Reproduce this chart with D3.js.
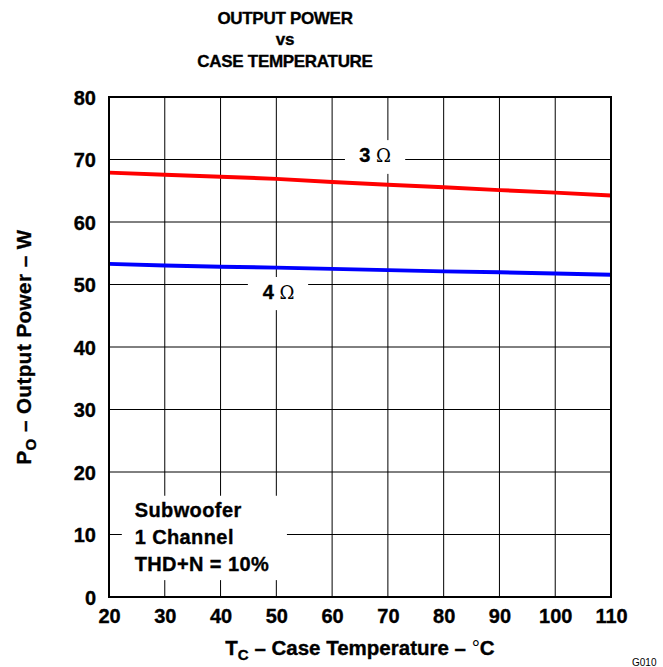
<!DOCTYPE html>
<html>
<head>
<meta charset="utf-8">
<script src="https://cdn.jsdelivr.net/npm/d3@7"></script>
<style>
  body { margin: 0; background: #fff; }
  svg { font-family: "Liberation Sans", Arial, sans-serif; }
  .tick text { font-size: 20px; font-weight: bold; fill: #000; font-family: "Liberation Sans", Arial, sans-serif; }
  .heavy { stroke: #000; stroke-width: 0.35px; }
</style>
</head>
<body>
<svg id="chart" width="663" height="667"></svg>
<script>
// data
const temps = [20, 30, 40, 50, 60, 70, 80, 90, 100, 110]
const ohm3 = [67.9, 67.55, 67.25, 66.9, 66.4, 65.95, 65.55, 65.1, 64.7, 64.25]
const ohm4 = [53.3, 53.05, 52.85, 52.7, 52.5, 52.3, 52.1, 51.95, 51.75, 51.55]
const xTicks = [20, 30, 40, 50, 60, 70, 80, 90, 100, 110]
const yTicks = [0, 10, 20, 30, 40, 50, 60, 70, 80]
const titleLines = ["OUTPUT POWER", "vs", "CASE TEMPERATURE"]
const noteLines = ["Subwoofer", "1 Channel", "THD+N = 10%"]

const margin = {top: 97, right: 52, bottom: 70, left: 109}
const width = 663 - margin.left - margin.right
const height = 667 - margin.top - margin.bottom

const svg = d3.select("#chart")

const x = d3.scaleLinear().domain([20, 110]).range([0, width])
const y = d3.scaleLinear().domain([0, 80]).range([height, 0])

const g = svg.append("g")
  .attr("transform", "translate(" + margin.left + "," + margin.top + ")")

// grid
g.append("g")
  .selectAll("line")
  .data(xTicks.slice(1, -1))
  .enter().append("line")
  .attr("x1", d => x(d)).attr("x2", d => x(d))
  .attr("y1", 0).attr("y2", height)
  .attr("stroke", "#000").attr("stroke-width", 1)

g.append("g")
  .selectAll("line")
  .data(yTicks.slice(1, -1))
  .enter().append("line")
  .attr("x1", 0).attr("x2", width)
  .attr("y1", d => y(d)).attr("y2", d => y(d))
  .attr("stroke", "#000").attr("stroke-width", 1)

// white boxes behind the labels cut the grid (in data units)
const boxes = [
  {x0: 62.3, x1: 73.1, y0: 73.1, y1: 67.7},   // 3 ohm
  {x0: 44.9, x1: 55.7, y0: 51.2, y1: 45.9},   // 4 ohm
  {x0: 22.3, x1: 51.9, y0: 16.2, y1: 2.7}     // note
]
g.selectAll("rect.box")
  .data(boxes)
  .enter().append("rect")
  .attr("class", "box")
  .attr("x", d => x(d.x0))
  .attr("width", d => x(d.x1) - x(d.x0))
  .attr("y", d => y(d.y0))
  .attr("height", d => y(d.y1) - y(d.y0))
  .attr("fill", "#fff")

const line = d3.line()
  .x((d, i) => x(temps[i]))
  .y(d => y(d))

g.append("path")
  .datum(ohm3)
  .attr("d", line)
  .attr("fill", "none")
  .attr("stroke", "#ff0000")
  .attr("stroke-width", 4)

g.append("path")
  .datum(ohm4)
  .attr("d", line)
  .attr("fill", "none")
  .attr("stroke", "#0000ff")
  .attr("stroke-width", 4)

// frame
g.append("rect")
  .attr("width", width).attr("height", height)
  .attr("fill", "none").attr("stroke", "#000").attr("stroke-width", 2)

// axes (labels only)
const xAxis = d3.axisBottom(x).tickValues(xTicks).tickSize(0).tickPadding(12)
const yAxis = d3.axisLeft(y).tickValues(yTicks).tickSize(0).tickPadding(13)

g.append("g")
  .attr("transform", "translate(0," + height + ")")
  .call(xAxis)
  .call(a => a.select(".domain").remove())
  .selectAll("text").attr("class", "heavy")

g.append("g")
  .call(yAxis)
  .call(a => a.select(".domain").remove())
  .selectAll("text").attr("dy", "0.36em").attr("class", "heavy")

// series labels
const seriesLabels = [
  {t: 67.7, p: 69.55, num: "3 "},
  {t: 50.4, p: 47.7, num: "4 "}
]
seriesLabels.forEach(l => {
  const txt = g.append("text")
    .attr("x", x(l.t)).attr("y", y(l.p))
    .attr("text-anchor", "middle")
    .attr("font-size", 20)
  txt.append("tspan").attr("font-weight", "bold").attr("class", "heavy").text(l.num)
  txt.append("tspan").attr("font-family", "'DejaVu Serif', serif").attr("font-size", 18).text("Ω")
})

// note
g.append("g")
  .selectAll("text")
  .data(noteLines)
  .enter().append("text")
  .attr("class", "heavy")
  .attr("x", x(24.6))
  .attr("y", (d, i) => y(12.8) + i * 27)
  .attr("font-size", 20)
  .attr("font-weight", "bold")
  .attr("letter-spacing", 0.4)
  .text(d => d)

// title
svg.append("g")
  .selectAll("text")
  .data(titleLines)
  .enter().append("text")
  .attr("class", "heavy")
  .attr("x", 285)
  .attr("y", (d, i) => 24 + i * 21.3)
  .attr("text-anchor", "middle")
  .attr("font-size", 17)
  .attr("font-weight", "bold")
  .attr("letter-spacing", -0.3)
  .text(d => d)

// axis titles
const xt = svg.append("text")
  .attr("class", "heavy")
  .attr("x", margin.left + width / 2)
  .attr("y", 655)
  .attr("text-anchor", "middle")
  .attr("font-size", 20.5)
  .attr("font-weight", "bold")
xt.append("tspan").text("T")
xt.append("tspan").attr("font-size", 15).attr("dy", 5).text("C")
xt.append("tspan").attr("dy", -5).text(" – Case Temperature – ")
xt.append("tspan").attr("font-weight", "normal").attr("stroke-width", 0).text("°")
xt.append("tspan").text("C")

const yt = svg.append("text")
  .attr("class", "heavy")
  .attr("transform", "translate(31," + (margin.top + height / 2) + ") rotate(-90)")
  .attr("text-anchor", "middle")
  .attr("font-size", 20.5)
  .attr("font-weight", "bold")
  .attr("letter-spacing", 0.5)
yt.append("tspan").text("P")
yt.append("tspan").attr("font-size", 15).attr("dy", 5).text("O")
yt.append("tspan").attr("dy", -5).text(" – Output Power – W")

svg.append("text")
  .attr("x", 632).attr("y", 666)
  .attr("font-size", 10)
  .attr("fill", "#000")
  .text("G010")
</script>
</body>
</html>
